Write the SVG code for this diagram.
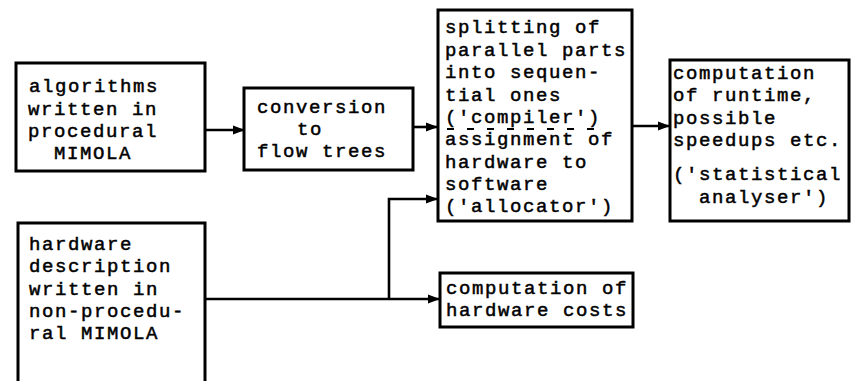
<svg xmlns="http://www.w3.org/2000/svg" width="851" height="381" viewBox="0 0 851 381">
<style>
.box{fill:#fff;stroke:#000;stroke-width:3}
.t{font-family:"Liberation Mono","Courier New",monospace;font-size:19px;letter-spacing:1.6px;fill:#000;stroke:#000;stroke-width:0.5;white-space:pre}
.c{fill:none;stroke:#000;stroke-width:2.6}
</style>
<defs>
<marker id="ah" markerWidth="12" markerHeight="10" refX="11" refY="5" orient="auto" markerUnits="userSpaceOnUse">
<path d="M0,0.5 L12,5 L0,9.5 Z" fill="#000"/>
</marker>
</defs>
<rect width="851" height="381" fill="#fff"/>
<g id="connectors">
<line class="c" x1="205" y1="130" x2="244" y2="130" marker-end="url(#ah)"/>
<line class="c" x1="413" y1="127" x2="437" y2="127" marker-end="url(#ah)"/>
<line class="c" x1="632" y1="126" x2="669" y2="126" marker-end="url(#ah)"/>
<line class="c" x1="205" y1="299" x2="439" y2="299" marker-end="url(#ah)"/>
<polyline class="c" points="389,299 389,199 437,199" marker-end="url(#ah)"/>
</g>
<g id="n1">
<rect class="box" x="16" y="63" width="189" height="108"/>
<text class="t" x="29" y="92">algorithms</text>
<text class="t" x="28" y="115">written in</text>
<text class="t" x="28" y="137">procedural</text>
<text class="t" x="54" y="159">MIMOLA</text>
</g>
<g id="n2">
<rect class="box" x="244" y="88" width="169" height="82"/>
<text class="t" x="257" y="113">conversion</text>
<text class="t" x="297" y="135">to</text>
<text class="t" x="257" y="157">flow trees</text>
</g>
<g id="n3">
<rect class="box" x="438" y="10" width="194" height="211"/>
<text class="t" x="445" y="33">splitting of</text>
<text class="t" x="445" y="56">parallel parts</text>
<text class="t" x="445" y="78">into sequen-</text>
<text class="t" x="445" y="101">tial ones</text>
<text class="t" x="445" y="123">('compiler')</text>
<line x1="447" y1="129" x2="600" y2="129" stroke="#000" stroke-width="2" stroke-dasharray="7,13"/>
<text class="t" x="445" y="145">assignment of</text>
<text class="t" x="445" y="168">hardware to</text>
<text class="t" x="445" y="190">software</text>
<text class="t" x="445" y="212">('allocator')</text>
</g>
<g id="n4">
<rect class="box" x="670" y="60" width="179" height="161"/>
<text class="t" x="673" y="79">computation</text>
<text class="t" x="673" y="101">of runtime,</text>
<text class="t" x="673" y="124">possible</text>
<text class="t" x="673" y="146">speedups etc.</text>
<text class="t" x="673" y="180">('statistical</text>
<text class="t" x="699" y="203">analyser')</text>
</g>
<g id="n5">
<path class="box" d="M18,385 L18,223 L205,223 L205,385"/>
<text class="t" x="29" y="250">hardware</text>
<text class="t" x="29" y="272">description</text>
<text class="t" x="29" y="295">written in</text>
<text class="t" x="29" y="317">non-procedu-</text>
<text class="t" x="29" y="339">ral MIMOLA</text>
</g>
<g id="n6">
<rect class="box" x="440" y="273" width="193" height="54"/>
<text class="t" x="446" y="294">computation of</text>
<text class="t" x="446" y="316">hardware costs</text>
</g>
</svg>
